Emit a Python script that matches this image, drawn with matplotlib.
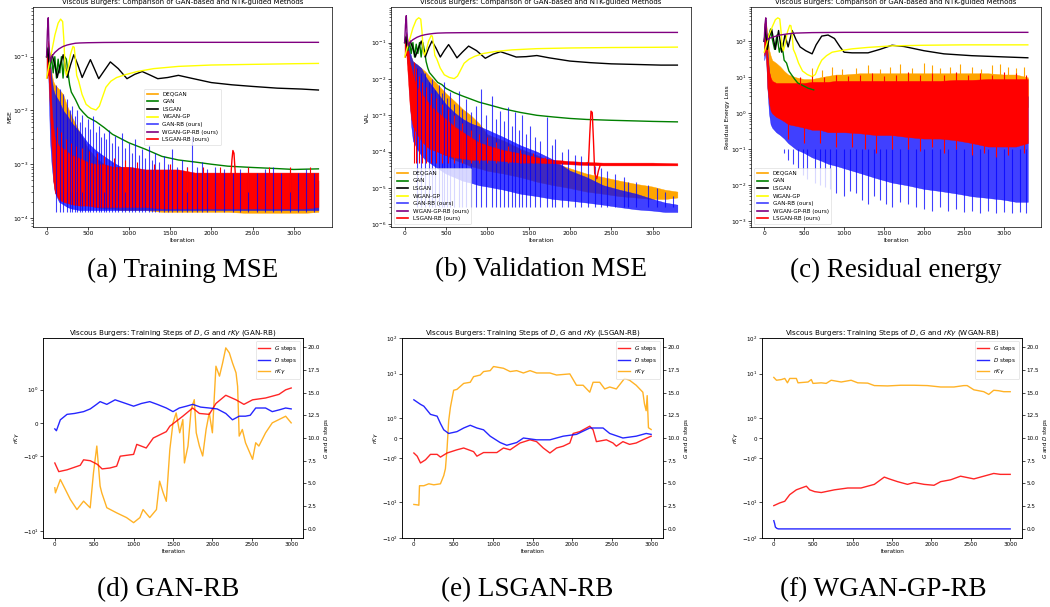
import matplotlib
matplotlib.use("Agg")
import matplotlib.pyplot as plt
from matplotlib.lines import Line2D

W, H, DPI = 1050, 607, 100

LABELS = ["DEQGAN", "GAN", "LSGAN", "WGAN-GP", "GAN-RB (ours)", "WGAN-GP-RB (ours)", "LSGAN-RB (ours)"]
COLORS = ["orange", "green", "black", "yellow", "blue", "purple", "red"]
ALPHAS = [1.0, 1.0, 1.0, 1.0, 0.75, 1.0, 1.0]

# iterations at which the noisy runs are summarised by a low/high envelope
BAND_IT = [0, 20, 40, 60, 80, 100, 150, 200, 250, 300, 400, 500, 600, 700, 800, 900, 1000,
           1200, 1400, 1600, 1800, 2000, 2200, 2400, 2600, 2800, 3000, 3150, 3300]

# ---------------- (a) training MSE ----------------
MSE_DEQ_HI = [0.1, 0.15, 0.08, 0.05, 0.035, 0.03, 0.025, 0.02, 0.012, 0.008, 0.004, 0.002, 0.0013, 0.001,
              0.0008, 0.0007, 0.0007, 0.0006, 0.0006, 0.0006, 0.0006, 0.0006, 0.0006, 0.0006, 0.0006,
              0.0006, 0.0006, 0.0006, 0.0005]
MSE_DEQ_LO = [0.04, 0.05, 0.02, 0.005, 0.002, 0.001, 6e-4, 4e-4, 3e-4, 2.5e-4, 2e-4, 1.8e-4, 1.6e-4, 1.5e-4,
              1.5e-4, 1.4e-4, 1.4e-4, 1.4e-4, 1.3e-4, 1.3e-4, 1.3e-4, 1.3e-4, 1.3e-4, 1.25e-4, 1.25e-4,
              1.25e-4, 1.25e-4, 1.25e-4, 1.3e-4]
MSE_GAN_IT = [0, 20, 40, 60, 80, 100, 120, 140, 160, 180, 200, 220, 240, 260, 280, 300, 350, 400, 450, 500,
              600, 700, 800, 900, 1000, 1200, 1400, 1600, 1800, 2000, 2200, 2500, 2800, 3000, 3300]
MSE_GAN = [0.1, 0.15, 0.06, 0.1, 0.05, 0.1, 0.04, 0.09, 0.05, 0.1, 0.04, 0.1, 0.09, 0.05, 0.03, 0.022,
           0.016, 0.011, 0.009, 0.0075, 0.0062, 0.0048, 0.0036, 0.003, 0.0025, 0.0019, 0.0014, 0.0012,
           0.0011, 0.001, 0.00092, 0.00087, 0.00083, 0.0008, 0.00082]
MSE_LSGAN_IT = [0, 15, 30, 45, 68, 100, 129, 165, 202, 225, 250, 290, 331, 380, 432, 480, 532, 580, 633,
                700, 774, 870, 976, 1070, 1160, 1250, 1350, 1470, 1600, 1750, 2000, 2250, 2500, 2800,
                3100, 3300]
MSE_LSGAN = [0.1, 0.14, 0.07, 0.09, 0.109, 0.07, 0.041, 0.07, 0.109, 0.07, 0.041, 0.07, 0.109, 0.07,
             0.041, 0.06, 0.088, 0.06, 0.039, 0.055, 0.08, 0.06, 0.039, 0.047, 0.053, 0.046, 0.039, 0.041,
             0.045, 0.04, 0.033, 0.03, 0.028, 0.026, 0.025, 0.024]
MSE_WGANGP_IT = [0, 30, 60, 100, 140, 170, 195, 210, 225, 240, 260, 290, 320, 335, 350, 365, 390, 430,
                 480, 540, 600, 640, 680, 720, 780, 850, 950, 1100, 1300, 1600, 2000, 2500, 3000, 3300]
MSE_WGANGP = [0.04, 0.07, 0.12, 0.25, 0.42, 0.5, 0.45, 0.2, 0.06, 0.045, 0.06, 0.11, 0.155, 0.15, 0.09,
              0.045, 0.035, 0.02, 0.013, 0.011, 0.0102, 0.012, 0.018, 0.027, 0.035, 0.041, 0.046, 0.053,
              0.06, 0.066, 0.07, 0.072, 0.074, 0.075]
MSE_GANRB_HI = [0.12, 0.18, 0.1, 0.04, 0.025, 0.02, 0.015, 0.01, 0.008, 0.006, 0.004, 0.0025, 0.0018,
                0.0014, 0.0011, 0.0009, 0.0008, 0.0007, 0.0006, 0.0005, 0.0005, 0.0005, 0.0005, 0.0005,
                0.0005, 0.0005, 0.0005, 0.0005, 0.0005]
MSE_GANRB_LO = [0.04, 0.05, 0.003, 0.001, 5e-4, 3e-4, 2e-4, 1.8e-4, 1.6e-4, 1.5e-4, 1.4e-4, 1.4e-4,
                1.4e-4, 1.4e-4, 1.4e-4, 1.4e-4, 1.4e-4, 1.4e-4, 1.4e-4, 1.4e-4, 1.4e-4, 1.4e-4, 1.4e-4,
                1.4e-4, 1.4e-4, 1.4e-4, 1.4e-4, 1.4e-4, 1.4e-4]
MSE_GANRB_SPIKE_IT = [120, 160, 200, 250, 280, 311, 340, 371, 400, 432, 470, 500, 530, 561, 600, 633, 660,
                      694, 720, 754, 790, 835, 870, 916, 950, 996, 1040, 1077, 1120, 1158, 1200, 1238,
                      1280, 1319, 1370, 1420, 1470, 1521, 1580, 1642, 1700, 1763, 1820, 1884, 1950, 2050,
                      2150, 2267, 2350, 2450, 2550, 2650, 2750, 2850, 2950, 3050, 3150, 3250]
MSE_GANRB_SPIKE = [0.03, 0.025, 0.02, 0.016, 0.01, 0.012, 0.008, 0.0104, 0.006, 0.0084, 0.005, 0.0068,
                   0.0045, 0.0078, 0.004, 0.0051, 0.0032, 0.0038, 0.003, 0.0044, 0.0025, 0.0033, 0.0022,
                   0.0038, 0.002, 0.0025, 0.0016, 0.0029, 0.0015, 0.0019, 0.0013, 0.0022, 0.0012, 0.0016,
                   0.0011, 0.0014, 0.001, 0.0019, 0.0009, 0.0012, 0.0009, 0.0033, 0.0009, 0.0011, 0.0008,
                   0.0009, 0.0008, 0.0007, 0.0008, 0.0009, 0.0007, 0.0008, 0.0009, 0.0007, 0.0008, 0.0007,
                   0.0008, 0.0007]
MSE_GANRB_SPIKE_BASE = 1.3e-4
MSE_WGANGPRB_IT = [0, 10, 20, 30, 45, 60, 100, 150, 200, 250, 300, 350, 400, 500, 700, 1000, 2000, 3300]
MSE_WGANGPRB = [0.1, 0.3, 0.53, 0.15, 0.08, 0.1, 0.12, 0.14, 0.155, 0.165, 0.172, 0.178, 0.18, 0.182,
                0.184, 0.185, 0.185, 0.185]
MSE_LSGANRB_HI = [0.1, 0.2, 0.06, 0.012, 0.005, 0.003, 0.0022, 0.002, 0.0017, 0.0015, 0.0013, 0.0011,
                  0.001, 0.001, 0.0009, 0.0009, 0.0009, 0.0008, 0.0008, 0.0008, 0.0007, 0.0007, 0.0007,
                  0.0007, 0.0007, 0.0007, 0.0007, 0.0007, 0.0007]
MSE_LSGANRB_LO = [0.04, 0.05, 0.01, 0.002, 5e-4, 3e-4, 2.2e-4, 2e-4, 1.9e-4, 1.8e-4, 1.7e-4, 1.7e-4,
                  1.6e-4, 1.6e-4, 1.6e-4, 1.6e-4, 1.6e-4, 1.6e-4, 1.5e-4, 1.5e-4, 1.5e-4, 1.5e-4, 1.5e-4,
                  1.5e-4, 1.5e-4, 1.5e-4, 1.5e-4, 1.5e-4, 1.6e-4]
MSE_LSGANRB_SPIKE_IT = [130, 180, 240, 300, 360, 430, 520, 610, 700, 820, 950, 1100, 1300, 1500, 1700,
                        1900, 2100, 2450, 2700, 2950, 3200]
MSE_LSGANRB_SPIKE = [0.005, 0.004, 0.003, 0.0025, 0.0022, 0.002, 0.0018, 0.0016, 0.0014, 0.0013, 0.0012,
                     0.0011, 0.001, 0.001, 0.0009, 0.0009, 0.0009, 0.0009, 0.0009, 0.0009, 0.0009]
MSE_LSGANRB_SPIKE_BASE = 3e-4
MSE_LSGANRB_BUMP_IT = [2230, 2250, 2262, 2275, 2290, 2310]
MSE_LSGANRB_BUMP = [4e-4, 0.0012, 0.0018, 0.0016, 0.0007, 3e-4]

# ---------------- (b) validation MSE ----------------
VAL_DEQ_HI = [0.1, 0.15, 0.08, 0.05, 0.04, 0.03, 0.025, 0.02, 0.016, 0.012, 0.007, 0.004, 0.0025, 0.0015,
              0.001, 6e-4, 3e-4, 2e-4, 1.2e-4, 8e-5, 5e-5, 3.5e-5, 2.5e-5, 2e-5, 1.6e-5, 1.3e-5, 1.1e-5,
              9e-6, 8e-6]
VAL_DEQ_LO = [0.04, 0.05, 0.02, 0.005, 0.002, 0.001, 5e-4, 3e-4, 2e-4, 1.5e-4, 1e-4, 8e-5, 6e-5, 5e-5,
              4e-5, 3.5e-5, 3e-5, 2.5e-5, 2e-5, 1.5e-5, 1.2e-5, 1e-5, 8e-6, 7e-6, 6e-6, 5.5e-6, 5e-6,
              5e-6, 5.5e-6]
VAL_GAN_IT = [0, 20, 40, 60, 80, 100, 120, 140, 160, 180, 200, 220, 240, 260, 280, 300, 350, 400, 450,
              500, 600, 700, 800, 900, 1000, 1200, 1400, 1600, 1800, 2000, 2200, 2500, 2800, 3000, 3300]
VAL_GAN = [0.1, 0.15, 0.06, 0.1, 0.05, 0.1, 0.04, 0.09, 0.05, 0.1, 0.04, 0.1, 0.06, 0.03, 0.02, 0.015,
           0.011, 0.008, 0.007, 0.0055, 0.0042, 0.0034, 0.0028, 0.0023, 0.002, 0.0015, 0.0012, 0.001,
           0.0009, 0.00082, 0.00077, 0.00073, 0.0007, 0.00068, 0.00066]
VAL_LSGAN_IT = MSE_LSGAN_IT
VAL_LSGAN = [0.1, 0.14, 0.07, 0.09, 0.11, 0.07, 0.04, 0.07, 0.11, 0.07, 0.04, 0.07, 0.11, 0.07,
             0.04, 0.06, 0.088, 0.06, 0.038, 0.055, 0.08, 0.06, 0.037, 0.048, 0.056, 0.048, 0.04, 0.041,
             0.044, 0.038, 0.031, 0.028, 0.026, 0.025, 0.024, 0.024]
VAL_WGANGP_IT = MSE_WGANGP_IT
VAL_WGANGP = [0.04, 0.07, 0.12, 0.25, 0.42, 0.48, 0.44, 0.2, 0.06, 0.045, 0.06, 0.11, 0.155, 0.15, 0.09,
              0.045, 0.035, 0.02, 0.013, 0.011, 0.0102, 0.012, 0.018, 0.027, 0.035, 0.042, 0.05, 0.057,
              0.063, 0.068, 0.071, 0.073, 0.074, 0.075]
VAL_GANRB_HI = [0.12, 0.2, 0.1, 0.06, 0.04, 0.03, 0.025, 0.02, 0.012, 0.008, 0.004, 0.002, 0.0012, 8e-4,
                6e-4, 5e-4, 4e-4, 2.5e-4, 1.5e-4, 1e-4, 6e-5, 3e-5, 2e-5, 1.2e-5, 9e-6, 7e-6, 5e-6,
                4e-6, 3.5e-6]
VAL_GANRB_LO = [0.04, 0.05, 0.02, 0.003, 5e-4, 2e-4, 1.2e-4, 8e-5, 6e-5, 5e-5, 3.5e-5, 2.5e-5, 2e-5,
                1.6e-5, 1.4e-5, 1.2e-5, 1.1e-5, 9e-6, 7e-6, 6e-6, 5e-6, 4.5e-6, 4e-6, 3.5e-6, 3e-6,
                2.6e-6, 2.4e-6, 2.2e-6, 2.2e-6]
VAL_GANRB_SPIKE_IT = [150, 200, 250, 290, 330, 370, 420, 450, 480, 515, 548, 600, 660, 700, 748, 800, 860,
                      920, 980, 1060, 1100, 1148, 1200, 1252, 1300, 1340, 1380, 1420, 1470, 1520, 1580,
                      1640, 1728, 1780, 1820, 1900, 1980, 2060, 2140, 2220, 2300, 2380, 2450, 2550, 2650,
                      2700, 2800, 2950, 3050, 3150, 3250]
VAL_GANRB_SPIKE = [0.02, 0.015, 0.015, 0.008, 0.01, 0.005, 0.007, 0.004, 0.008, 0.003, 0.0044, 0.002,
                   0.0048, 0.0015, 0.0028, 0.0012, 0.0018, 0.0054, 0.001, 0.0035, 8e-4, 0.0013, 7e-4,
                   0.0017, 5e-4, 0.0012, 4e-4, 0.001, 3e-4, 5.2e-4, 2.5e-4, 2e-4, 9e-4, 1.5e-4, 2.2e-4,
                   1e-4, 1.2e-4, 8e-5, 7.5e-5, 6e-5, 4e-5, 3.5e-5, 3e-5, 2.5e-5, 2e-5, 1.5e-5, 1.5e-5,
                   1.2e-5, 1e-5, 8e-6, 6e-6]
VAL_GANRB_SPIKE_BASE = 3e-6
VAL_WGANGPRB_IT = MSE_WGANGPRB_IT
VAL_WGANGPRB = [0.1, 0.3, 0.55, 0.15, 0.08, 0.1, 0.12, 0.14, 0.155, 0.165, 0.172, 0.178, 0.182, 0.185,
                0.187, 0.188, 0.19, 0.19]
VAL_LSGANRB_HI = [0.1, 0.18, 0.08, 0.03, 0.02, 0.012, 0.006, 0.004, 0.003, 0.002, 0.0012, 8e-4, 5e-4,
                  3.5e-4, 2.5e-4, 1.8e-4, 1.5e-4, 1.1e-4, 9e-5, 7e-5, 6e-5, 5.5e-5, 5.2e-5, 5e-5, 5e-5,
                  5e-5, 5e-5, 4.9e-5, 4.8e-5]
VAL_LSGANRB_LO = [0.04, 0.05, 0.01, 0.002, 8e-4, 5e-4, 3e-4, 2e-4, 1.5e-4, 1.2e-4, 1e-4, 8e-5, 7e-5,
                  6.5e-5, 6e-5, 6e-5, 6e-5, 5.5e-5, 5e-5, 5e-5, 4.8e-5, 4.5e-5, 4.3e-5, 4.2e-5, 4.2e-5,
                  4.2e-5, 4.2e-5, 4.2e-5, 4.2e-5]
VAL_LSGANRB_SPIKE_IT = [110, 140, 170, 210, 260, 320, 380, 450, 520, 600, 700, 800, 900, 1000, 1100, 1250,
                        1400, 1550, 1700, 1900]
VAL_LSGANRB_SPIKE = [0.03, 0.02, 0.012, 0.008, 0.006, 0.004, 0.003, 0.002, 0.0015, 0.001, 6e-4, 4e-4,
                     3e-4, 2.5e-4, 1.8e-4, 1.4e-4, 1.1e-4, 9e-5, 7e-5, 6e-5]
VAL_LSGANRB_SPIKE_BASE = 5e-5
VAL_LSGANRB_BUMP_IT = [2200, 2225, 2240, 2255, 2270, 2285, 2300, 2325, 2345, 2370]
VAL_LSGANRB_BUMP = [4.8e-5, 5e-5, 3e-4, 1.3e-3, 1.2e-3, 2e-4, 2.5e-5, 1.8e-5, 3e-5, 4.5e-5]

# ---------------- (c) residual energy ----------------
RES_DEQ_HI = [300, 400, 150, 60, 40, 30, 25, 20, 15, 12, 10, 9, 9, 10, 11, 12, 12, 13, 13, 13, 13, 13,
              13, 13, 13, 13, 12, 12, 10]
RES_DEQ_LO = [50, 80, 10, 5, 3, 2.5, 2, 1.5, 1.5, 1.5, 1.5, 1.5, 1.5, 1.5, 1.5, 1.5, 1.5, 1.5, 1.5, 1.5,
              1.5, 1.5, 1.5, 1.5, 1.5, 1.5, 1.5, 1.5, 1.5]
RES_DEQ_SPIKE_IT = [600, 720, 850, 980, 1150, 1300, 1450, 1580, 1700, 1850, 2000, 2100, 2200, 2330, 2450,
                    2600, 2720, 2850, 2950, 3050, 3150, 3250]
RES_DEQ_SPIKE = [18, 16, 20, 17, 18, 22, 17, 19, 24, 18, 25, 22, 18, 19, 23, 20, 17, 22, 24, 20, 18, 19]
RES_DEQ_SPIKE_BASE = 10
RES_GAN_IT = [0, 20, 40, 60, 80, 100, 130, 160, 190, 220, 250, 280, 310, 340, 380, 420, 480, 550, 620]
RES_GAN = [100, 200, 60, 150, 220, 120, 60, 150, 50, 90, 30, 25, 15, 12, 9, 7, 6, 5, 4.5]
RES_LSGAN_IT = [0, 20, 40, 60, 93, 140, 180, 220, 260, 300, 350, 400, 450, 520, 600, 650, 720, 800, 880,
                950, 1000, 1100, 1300, 1450, 1600, 1750, 2000, 2250, 2600, 3000, 3300]
RES_LSGAN = [100, 250, 60, 120, 220, 60, 200, 50, 150, 70, 200, 110, 70, 55, 45, 80, 140, 150, 120, 70,
             50, 48, 48, 60, 78, 72, 55, 45, 40, 37, 35]
RES_WGANGP_IT = MSE_WGANGP_IT
RES_WGANGP = [50, 80, 150, 250, 400, 450, 420, 200, 70, 55, 80, 180, 280, 270, 150, 60, 45, 25, 15, 12,
              10.5, 12, 20, 30, 40, 50, 55, 62, 68, 75, 78, 80, 80, 80]
RES_GANRB_HI = [250, 400, 60, 15, 8, 6, 5, 4, 3.5, 3, 3, 3, 3, 3, 3, 3, 3, 3, 3, 3, 3, 3, 3, 3, 3, 3, 3,
                3, 3]
RES_GANRB_LO = [30, 50, 5, 1, 0.5, 0.4, 0.3, 0.25, 0.2, 0.15, 0.1, 0.08, 0.06, 0.05, 0.04, 0.035, 0.03,
                0.022, 0.016, 0.012, 0.01, 0.008, 0.007, 0.006, 0.005, 0.0045, 0.004, 0.0035, 0.0035]
RES_GANRB_DIP_IT = [250, 300, 360, 420, 480, 540, 640, 700, 760, 820, 900, 1000, 1080, 1150, 1220, 1300,
                    1380, 1450, 1530, 1600, 1700, 1800, 1900, 2000, 2100, 2200, 2300, 2400, 2500, 2600,
                    2700, 2800, 2900, 3000, 3100, 3200, 3280]
RES_GANRB_DIP = [0.08, 0.05, 0.04, 0.03, 0.02, 0.015, 0.012, 0.01, 0.009, 0.008, 0.006, 0.005, 0.007,
                 0.006, 0.004, 0.003, 0.005, 0.004, 0.003, 0.0025, 0.0035, 0.003, 0.0025, 0.0022, 0.002,
                 0.0025, 0.002, 0.0022, 0.0018, 0.002, 0.0017, 0.0019, 0.0017, 0.0018, 0.0017, 0.0018,
                 0.0017]
RES_GANRB_DIP_BASE = 0.1
RES_WGANGPRB_IT = [0, 10, 20, 30, 45, 60, 100, 150, 200, 300, 400, 600, 1000, 2000, 3300]
RES_WGANGPRB = [100, 300, 450, 180, 110, 120, 130, 140, 150, 162, 170, 175, 178, 178, 178]
RES_LSGANRB_HI = [250, 350, 40, 15, 10, 8, 7, 7, 7, 7, 7, 7, 7.5, 7.5, 7.5, 8, 8, 8, 8, 8, 8, 8, 8, 8.5,
                  8.5, 9, 9, 9, 9]
RES_LSGANRB_LO = [40, 60, 5, 2, 1.2, 1, 0.8, 0.7, 0.6, 0.5, 0.45, 0.4, 0.35, 0.35, 0.3, 0.3, 0.3, 0.28,
                  0.25, 0.25, 0.22, 0.2, 0.2, 0.18, 0.15, 0.12, 0.12, 0.12, 0.15]
RES_LSGANRB_SPIKE_IT = [450, 600, 750, 900, 1050, 1200, 1350, 1500, 1650, 1800, 1950, 2100, 2250, 2400,
                        2550, 2700, 2850, 3000, 3150, 3280]
RES_LSGANRB_SPIKE = [10, 11, 10, 12, 11, 12, 13, 11, 12, 14, 12, 13, 12, 14, 12, 13, 12, 14, 13, 12]
RES_LSGANRB_SPIKE_BASE = 5
RES_LSGANRB_DIP_IT = [300, 500, 700, 900, 1100, 1260, 1400, 1600, 1800, 1950, 2100, 2250, 2400, 2600,
                      2750, 2900, 3050, 3250]
RES_LSGANRB_DIP = [0.2, 0.15, 0.15, 0.12, 0.12, 0.1, 0.08, 0.1, 0.1, 0.09, 0.12, 0.08, 0.1, 0.07, 0.08,
                   0.06, 0.07, 0.08]
RES_LSGANRB_DIP_BASE = 1.0

# ---------------- (d)-(f) step counts and rK-gamma ----------------
GANRB_G_IT = [0, 50, 155, 323, 365, 450, 540, 600, 700, 785, 830, 1000, 1040, 1160, 1250, 1415, 1460,
              1625, 1750, 1835, 1960, 2045, 2170, 2300, 2400, 2510, 2675, 2845, 2930, 3000]
GANRB_G = [7.25, 6.3, 6.5, 7.0, 7.6, 7.5, 7.1, 6.6, 6.7, 6.9, 8.0, 8.2, 9.3, 8.9, 10.0, 10.7, 11.3,
           12.4, 13.3, 12.7, 12.6, 13.8, 14.7, 14.2, 13.7, 14.2, 14.4, 14.8, 15.3, 15.5]
GANRB_D_IT = [0, 20, 70, 155, 250, 365, 450, 530, 575, 660, 765, 900, 1000, 1100, 1205, 1300, 1415,
              1500, 1580, 1670, 1750, 1850, 1960, 2060, 2170, 2255, 2340, 2420, 2480, 2550, 2675, 2760,
              2850, 2930, 3000]
GANRB_D = [11.0, 10.8, 12.0, 12.6, 12.7, 12.9, 13.2, 13.7, 14.0, 13.7, 14.2, 13.8, 13.5, 13.8, 14.0,
           13.7, 13.3, 12.9, 13.3, 13.5, 13.7, 13.4, 13.3, 13.2, 12.7, 12.0, 12.4, 12.4, 12.5, 13.3,
           13.3, 12.9, 13.1, 13.3, 13.2]
GANRB_RK_IT = [0, 8, 70, 134, 197, 281, 365, 449, 491, 533, 575, 596, 660, 785, 910, 1000, 1080, 1120,
               1205, 1290, 1330, 1375, 1415, 1460, 1500, 1540, 1585, 1625, 1645, 1690, 1730, 1770, 1795,
               1835, 1877, 1920, 1960, 2000, 2045, 2090, 2130, 2170, 2215, 2255, 2300, 2320, 2340, 2380,
               2420, 2510, 2550, 2590, 2675, 2760, 2845, 2930, 3000]
GANRB_RK = [-1.96, -2.31, -1.71, -2.03, -2.98, -4.4, -3.18, -4.12, -1.5, -0.7, -1.91, -2.31, -4.1, -5.0,
            -6.0, -7.3, -6.0, -4.4, -6.0, -4.4, -1.76, -2.3, -3.2, -0.8, 0.0, 0.3, -0.3, 0.1, -1.21,
            -0.7, 0.4, 0.7, -0.3, -0.7, -1.0, -0.2, 0.3, -0.3, 1.71, 1.41, 1.81, 2.8, 2.31, 1.81, 1.51,
            1.1, -0.4, -0.2, -0.6, -1.1, -0.6, -0.7, -0.3, 0.0, 0.1, 0.2, 0.0]

LSGANRB_G_IT = [0, 42, 84, 147, 210, 294, 336, 420, 545, 630, 755, 797, 881, 1049, 1133, 1217, 1343,
                1469, 1552, 1636, 1720, 1804, 1888, 1972, 2014, 2098, 2224, 2266, 2308, 2434, 2518, 2560,
                2643, 2727, 2811, 2895, 3000]
LSGANRB_G = [8.35, 8.0, 7.25, 7.6, 8.2, 8.2, 7.9, 8.35, 8.7, 8.9, 8.5, 8.0, 8.4, 8.4, 8.9, 8.7, 9.45,
             9.8, 9.6, 8.9, 8.35, 8.9, 9.1, 9.45, 10.5, 10.7, 11.3, 10.9, 9.6, 9.8, 9.45, 9.1, 9.6, 9.3,
             9.45, 9.8, 10.2]
LSGANRB_D_IT = [0, 84, 126, 210, 294, 336, 378, 440, 545, 630, 713, 797, 881, 965, 1091, 1175, 1300,
                1385, 1552, 1720, 1888, 2056, 2224, 2392, 2476, 2643, 2811, 2937, 3000]
LSGANRB_D = [14.2, 13.7, 13.5, 12.6, 12.4, 11.6, 10.9, 10.5, 10.7, 11.1, 11.4, 11.1, 10.9, 10.2, 9.5,
             9.2, 9.5, 10.0, 9.8, 9.8, 10.2, 10.4, 11.1, 11.1, 10.5, 10.0, 10.2, 10.5, 10.4]
LSGANRB_RK_IT = [0, 42, 63, 71, 126, 189, 252, 336, 378, 399, 420, 440, 462, 503, 545, 630, 713, 755,
                 839, 881, 965, 1007, 1133, 1217, 1300, 1385, 1469, 1552, 1720, 1804, 1972, 2056, 2140,
                 2224, 2266, 2350, 2413, 2476, 2560, 2664, 2727, 2811, 2895, 2916, 2937, 2950, 2966, 3000]
LSGANRB_RK = [-11.4, -11.7, -12.0, -3.4, -3.4, -3.0, -3.2, -3.0, -1.9, -1.55, -0.52, 0.86, 1.55, 3.4,
              3.6, 5.3, 5.7, 8.2, 9.1, 11.4, 12.1, 15.8, 14.1, 11.4, 12.1, 10.4, 12.1, 10.4, 10.4, 9.1,
              9.8, 4.7, 4.7, 3.0, 5.7, 5.7, 3.7, 4.2, 3.7, 7.3, 6.5, 4.7, 3.0, 1.72, 1.38, 2.4, 0.52,
              0.43]

WGANRB_G_IT = [0, 76, 139, 202, 286, 349, 413, 455, 518, 602, 770, 939, 1107, 1276, 1402, 1465, 1570,
               1697, 1781, 1907, 2033, 2118, 2244, 2370, 2539, 2665, 2791, 2875, 3000]
WGANRB_G = [2.56, 2.86, 3.04, 3.77, 4.3, 4.5, 4.7, 4.3, 4.1, 4.0, 4.3, 4.5, 4.5, 4.9, 5.7, 5.5, 5.2, 4.9,
            5.1, 4.9, 4.8, 5.2, 5.4, 5.8, 5.5, 5.8, 6.1, 6.0, 6.0]
WGANRB_D_IT = [0, 10, 20, 40, 60, 3000]
WGANRB_D = [0.9, 0.6, 0.2, 0.05, 0.0, 0.0]
WGANRB_RK_IT = [0, 34, 97, 139, 173, 202, 286, 307, 434, 476, 497, 602, 665, 728, 855, 981, 1065, 1191,
                1276, 1444, 1612, 1781, 1949, 2118, 2286, 2412, 2454, 2539, 2665, 2728, 2791, 2854, 2918,
                3000]
WGANRB_RK = [7.8, 6.5, 6.8, 7.3, 5.5, 7.3, 7.3, 5.5, 5.8, 6.8, 5.3, 5.5, 5.3, 6.5, 5.8, 6.5, 5.5, 5.4,
             4.6, 4.5, 4.7, 4.7, 4.6, 4.2, 4.2, 4.6, 4.6, 3.5, 3.1, 2.6, 3.4, 3.3, 3.1, 3.1]

CAPTIONS = ["(a) Training MSE", "(b) Validation MSE", "(c) Residual energy",
            "(d) GAN-RB", "(e) LSGAN-RB", "(f) WGAN-GP-RB"]
RUN_NAMES = ["GAN-RB", "LSGAN-RB", "WGAN-RB"]


def px_axes(fig, left, top, right, bottom):
    return fig.add_axes([left / W, 1 - bottom / H, (right - left) / W, (bottom - top) / H])


def thin_frame(ax, labelsize):
    for s in ax.spines.values():
        s.set_linewidth(0.5)
    ax.tick_params(which="major", labelsize=labelsize, length=2, width=0.5, pad=1)
    ax.tick_params(which="minor", length=1.2, width=0.4)


def loss_panel(ax, series, ylabel, legend_loc, ylim):
    for label, color, alpha in zip(LABELS, COLORS, ALPHAS):
        for spec in series.get(label, []):
            kind = spec[0]
            if kind == "band":
                ax.fill_between(spec[1], spec[2], spec[3], color=color, alpha=alpha, lw=0.3)
            elif kind == "line":
                ax.plot(spec[1], spec[2], color=color, alpha=alpha, lw=1.0)
            else:
                ax.vlines(spec[1], spec[3], spec[2], color=color, alpha=alpha, lw=0.8)
    ax.set_yscale("log")
    ax.set_ylim(*ylim)
    ax.set_xticks(range(0, 3001, 500))
    ax.set_title("Viscous Burgers: Comparison of GAN-based and NTK-guided Methods", fontsize=5.05, pad=2)
    ax.set_xlabel("Iteration", fontsize=4.3, labelpad=1)
    ax.set_ylabel(ylabel, fontsize=4.3, labelpad=1)
    thin_frame(ax, 4.3)
    handles = [Line2D([], [], color=c, alpha=a, lw=1.2) for c, a in zip(COLORS, ALPHAS)]
    leg = ax.legend(handles, LABELS, loc=legend_loc, fontsize=4.1, handlelength=2.0, borderpad=0.5,
                    labelspacing=0.45, edgecolor="#cccccc")
    leg.get_frame().set_linewidth(0.4)


def steps_panel(ax, name, g_it, g, d_it, d, rk_it, rk, ylim):
    ax2 = ax.twinx()
    l_rk, = ax.plot(rk_it, rk, color="orange", alpha=0.85, lw=1.0)
    l_g, = ax2.plot(g_it, g, color="red", alpha=0.85, lw=1.0)
    l_d, = ax2.plot(d_it, d, color="blue", alpha=0.85, lw=1.0)
    ax.set_yscale("symlog")
    ax.set_ylim(*ylim)
    ax2.set_ylim(-1, 21)
    ax2.set_yticks([0, 2.5, 5, 7.5, 10, 12.5, 15, 17.5, 20])
    ax.set_xticks(range(0, 3001, 500))
    ax.set_title(r"Viscous Burgers: Training Steps of $D$, $G$ and $rK\gamma$ (" + name + ")",
                 fontsize=5.1, pad=2)
    ax.set_xlabel("Iteration", fontsize=4.1, labelpad=1)
    ax.set_ylabel(r"$rK\gamma$", fontsize=4.1, labelpad=1)
    ax2.set_ylabel(r"$G$ and $D$ steps", fontsize=4.1, labelpad=2)
    thin_frame(ax, 4.1)
    thin_frame(ax2, 4.1)
    leg = ax2.legend([l_g, l_d, l_rk], [r"$G$ steps", r"$D$ steps", r"$rK\gamma$"], loc="upper right",
                     fontsize=4.1, handlelength=2.0, borderpad=0.5, edgecolor="#cccccc")
    leg.get_frame().set_linewidth(0.4)


fig = plt.figure(figsize=(W / DPI, H / DPI), dpi=DPI)

ax_a = px_axes(fig, 33, 7, 332, 227)
loss_panel(ax_a, {
    "DEQGAN": [("band", BAND_IT, MSE_DEQ_LO, MSE_DEQ_HI)],
    "GAN": [("line", MSE_GAN_IT, MSE_GAN)],
    "LSGAN": [("line", MSE_LSGAN_IT, MSE_LSGAN)],
    "WGAN-GP": [("line", MSE_WGANGP_IT, MSE_WGANGP)],
    "GAN-RB (ours)": [("band", BAND_IT, MSE_GANRB_LO, MSE_GANRB_HI),
                      ("spikes", MSE_GANRB_SPIKE_IT, MSE_GANRB_SPIKE, MSE_GANRB_SPIKE_BASE)],
    "WGAN-GP-RB (ours)": [("line", MSE_WGANGPRB_IT, MSE_WGANGPRB)],
    "LSGAN-RB (ours)": [("band", BAND_IT, MSE_LSGANRB_LO, MSE_LSGANRB_HI),
                        ("spikes", MSE_LSGANRB_SPIKE_IT, MSE_LSGANRB_SPIKE, MSE_LSGANRB_SPIKE_BASE),
                        ("line", MSE_LSGANRB_BUMP_IT, MSE_LSGANRB_BUMP)],
}, "MSE", "center", (6.8e-5, 0.84))

ax_b = px_axes(fig, 391, 7, 691, 227)
loss_panel(ax_b, {
    "DEQGAN": [("band", BAND_IT, VAL_DEQ_LO, VAL_DEQ_HI)],
    "GAN": [("line", VAL_GAN_IT, VAL_GAN)],
    "LSGAN": [("line", VAL_LSGAN_IT, VAL_LSGAN)],
    "WGAN-GP": [("line", VAL_WGANGP_IT, VAL_WGANGP)],
    "GAN-RB (ours)": [("band", BAND_IT, VAL_GANRB_LO, VAL_GANRB_HI),
                      ("spikes", VAL_GANRB_SPIKE_IT, VAL_GANRB_SPIKE, VAL_GANRB_SPIKE_BASE)],
    "WGAN-GP-RB (ours)": [("line", VAL_WGANGPRB_IT, VAL_WGANGPRB)],
    "LSGAN-RB (ours)": [("band", BAND_IT, VAL_LSGANRB_LO, VAL_LSGANRB_HI),
                        ("spikes", VAL_LSGANRB_SPIKE_IT, VAL_LSGANRB_SPIKE, VAL_LSGANRB_SPIKE_BASE),
                        ("line", VAL_LSGANRB_BUMP_IT, VAL_LSGANRB_BUMP)],
}, "VAL", "lower left", (8.5e-7, 0.95))

ax_c = px_axes(fig, 751, 7, 1041, 227)
loss_panel(ax_c, {
    "DEQGAN": [("band", BAND_IT, RES_DEQ_LO, RES_DEQ_HI),
               ("spikes", RES_DEQ_SPIKE_IT, RES_DEQ_SPIKE, RES_DEQ_SPIKE_BASE)],
    "GAN": [("line", RES_GAN_IT, RES_GAN)],
    "LSGAN": [("line", RES_LSGAN_IT, RES_LSGAN)],
    "WGAN-GP": [("line", RES_WGANGP_IT, RES_WGANGP)],
    "GAN-RB (ours)": [("band", BAND_IT, RES_GANRB_LO, RES_GANRB_HI),
                      ("spikes", RES_GANRB_DIP_IT, RES_GANRB_DIP, RES_GANRB_DIP_BASE)],
    "WGAN-GP-RB (ours)": [("line", RES_WGANGPRB_IT, RES_WGANGPRB)],
    "LSGAN-RB (ours)": [("band", BAND_IT, RES_LSGANRB_LO, RES_LSGANRB_HI),
                        ("spikes", RES_LSGANRB_SPIKE_IT, RES_LSGANRB_SPIKE, RES_LSGANRB_SPIKE_BASE),
                        ("spikes", RES_LSGANRB_DIP_IT, RES_LSGANRB_DIP, RES_LSGANRB_DIP_BASE)],
}, "Residual Energy Loss", "lower left", (7e-4, 900))

ax_d = px_axes(fig, 43, 338, 303, 538)
steps_panel(ax_d, RUN_NAMES[0], GANRB_G_IT, GANRB_G, GANRB_D_IT, GANRB_D, GANRB_RK_IT, GANRB_RK,
            (-13.2, 4.1))
ax_e = px_axes(fig, 402, 338, 663, 538)
steps_panel(ax_e, RUN_NAMES[1], LSGANRB_G_IT, LSGANRB_G, LSGANRB_D_IT, LSGANRB_D, LSGANRB_RK_IT,
            LSGANRB_RK, (-100, 100))
ax_f = px_axes(fig, 762, 338, 1022, 538)
steps_panel(ax_f, RUN_NAMES[2], WGANRB_G_IT, WGANRB_G, WGANRB_D_IT, WGANRB_D, WGANRB_RK_IT, WGANRB_RK,
            (-100, 100))

# sub-figure captions
cap_xy = [(183, 270), (541, 270), (896, 270), (168, 590), (527, 590), (883, 590)]
for (cx, cy), text in zip(cap_xy, CAPTIONS):
    fig.text(cx / W, 1 - cy / H, text, ha="center", va="center", fontsize=19.5,
             family=["Liberation Serif", "DejaVu Serif"])

fig.savefig("out.png", dpi=DPI)
